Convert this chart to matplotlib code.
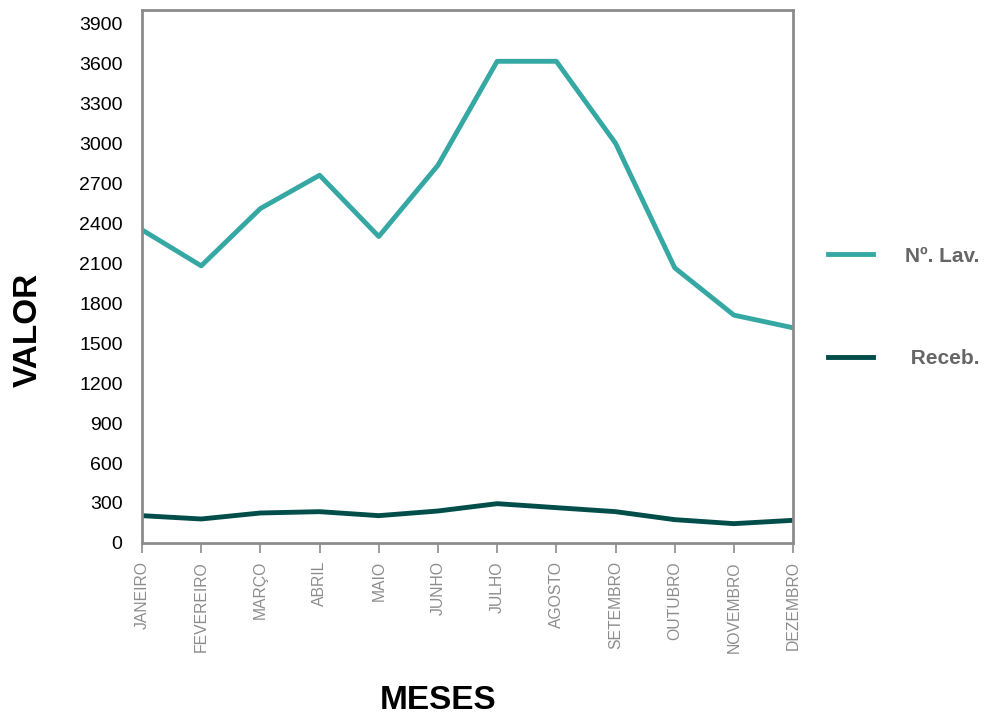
import matplotlib.pyplot as plt

meses = ["JANEIRO", "FEVEREIRO", "MARÇO", "ABRIL", "MAIO", "JUNHO",
         "JULHO", "AGOSTO", "SETEMBRO", "OUTUBRO", "NOVEMBRO", "DEZEMBRO"]
lavagens = [2350, 2080, 2510, 2760, 2300, 2835, 3615, 3615, 3000, 2065, 1710, 1615]
recebimentos = [205, 180, 225, 235, 205, 240, 295, 265, 235, 175, 145, 170]
yticks = list(range(0, 4000, 300))

cor_lav = "#36A8A4"
cor_rec = "#004D4A"
cinza = "#8C8C8C"

fig = plt.figure(figsize=(9.91, 7.15), dpi=100)
ax = fig.add_axes([0.1433, 0.2406, 0.657, 0.7454])

x = range(len(meses))
ax.plot(x, lavagens, color=cor_lav, lw=3.5, label="Nº. Lav.", solid_joinstyle="round")
ax.plot(x, recebimentos, color=cor_rec, lw=3.5, label=" Receb.", solid_joinstyle="round")

ax.set_xlim(0, len(meses) - 1)
ax.set_ylim(0, 4000)
ax.set_yticks(yticks)
ax.set_yticklabels([str(v) for v in yticks], fontsize=14, family="Liberation Sans")
ax.set_xticks(list(x))
ax.set_xticklabels(meses, rotation=90, fontsize=11.3, color=cinza, family="Liberation Sans")
ax.tick_params(axis="y", length=0, pad=14)
ax.tick_params(axis="x", length=7, width=1.2, color=cinza, pad=6)

for s in ax.spines.values():
    s.set_color(cinza)
    s.set_linewidth(2)

ax.set_ylabel("VALOR", fontsize=24, fontweight="bold", family="Liberation Sans")
ax.yaxis.set_label_coords(-0.151, 0.4)
ax.set_xlabel("MESES", fontsize=24, fontweight="bold", family="Liberation Sans")
ax.xaxis.set_label_coords(0.455, -0.266)

leg = fig.legend(loc="upper left", bbox_to_anchor=(0.8355, 0.655), frameon=False,
                 handlelength=2.15, handletextpad=1.55, labelspacing=4.0,
                 borderpad=0, borderaxespad=0,
                 prop={"family": "Liberation Sans", "weight": "bold", "size": 15})
for t in leg.get_texts():
    t.set_color("#666666")

fig.savefig("out.png", dpi=100)
